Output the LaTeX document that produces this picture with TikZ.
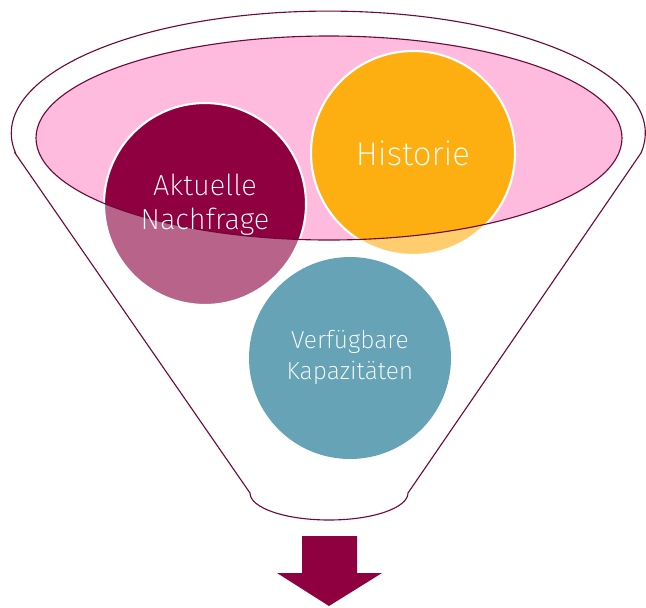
\documentclass[tikz,border=0pt]{standalone}
\usepackage{fontspec}
\setmainfont{Fira Sans}[UprightFont=* ExtraLight]
\definecolor{wine}{HTML}{8E003F}
\definecolor{winelight}{HTML}{B8648A}
\definecolor{amber}{HTML}{FDAF12}
\definecolor{amberlight}{HTML}{FFCD6E}
\definecolor{petrol}{HTML}{67A3B6}
\definecolor{rosa}{HTML}{FFBBDD}
\definecolor{rim}{HTML}{6E0A3A}
\tikzset{bubbletext/.style={text=white, align=center}}
\begin{document}
\begin{tikzpicture}[x=0.025cm,y=-0.025cm]
\useasboundingbox (0,0) rectangle (646,607);
\draw[rim, line width=0.8pt] (15,153) -- (250,493) arc[start angle=180, end angle=0, x radius=79, y radius=27] -- (641,153) arc[start angle=9.4, end angle=-189.4, x radius=317, y radius=122] -- cycle;
\fill[rosa] (329,138) ellipse[x radius=293, y radius=102];
\fill[winelight] (205,204) circle[radius=101];
\fill[amberlight] (413,153) circle[radius=102];
\begin{scope}
\clip (329,138) ellipse[x radius=293, y radius=102];
\fill[wine] (205,204) circle[radius=101];
\fill[amber] (413,153) circle[radius=102];
\end{scope}
\draw[white, line width=1.5pt] (205,204) circle[radius=101] (413,153) circle[radius=102];
\draw[rim, line width=0.8pt] (329,138) ellipse[x radius=293, y radius=102];
\fill[petrol] (350,358) circle[radius=101];
\node[bubbletext, font=\fontsize{20.6}{24}\selectfont] (akt) at (205,205) {Aktuelle\\Nachfrage};
\node[bubbletext, font=\fontsize{23.5}{28}\selectfont] (hist) at (413,153) {Historie};
\node[bubbletext, font=\fontsize{17.5}{22}\selectfont] (verf) at (350,357) {Verfügbare\\Kapazitäten};
\fill[wine] (302,536) -- (357,536) -- (357,573) -- (382,573) -- (329,606) -- (277,573) -- (302,573) -- cycle;
\end{tikzpicture}
\end{document}
